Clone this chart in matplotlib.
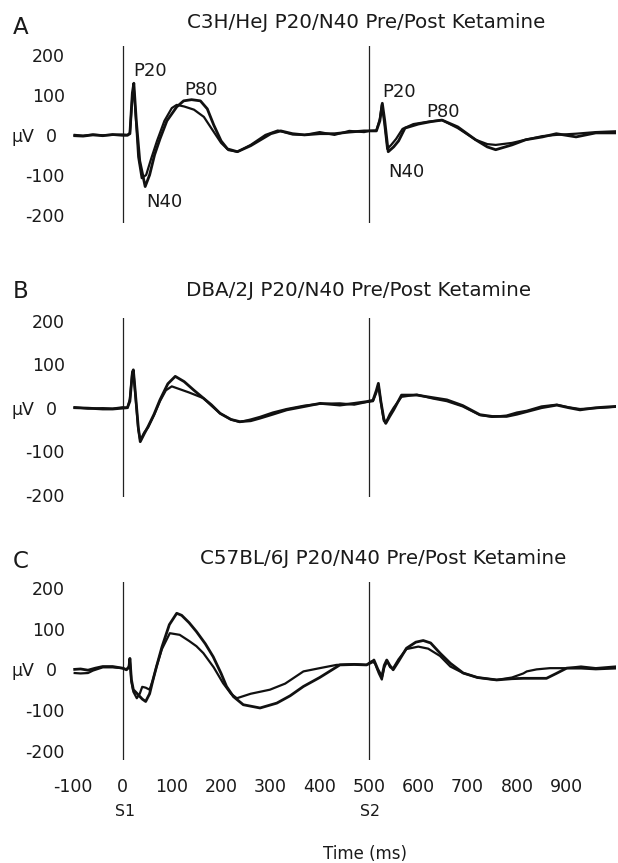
import matplotlib
matplotlib.use("Agg")
import matplotlib.pyplot as plt
import matplotlib.transforms as mtransforms

plt.rcParams['font.family'] = ['DejaVu Sans']

# ---------------- data ----------------
titles = ["C3H/HeJ P20/N40 Pre/Post Ketamine",
          "DBA/2J P20/N40 Pre/Post Ketamine",
          "C57BL/6J P20/N40 Pre/Post Ketamine"]
panel_letters = ["A", "B", "C"]
yticks = [200, 100, -100, -200]
xticks = [-100, 0, 100, 200, 300, 400, 500, 600, 700, 800, 900]
stim_times = [0, 500]
stim_labels = ["S1", "S2"]

# Panel A
a1_t = [-97, -80, -60, -40, -20, 0, 10, 15, 20, 23, 28, 35, 46, 55, 65, 76, 90, 110, 124, 140,
        158, 172, 185, 200, 213, 233, 260, 301, 321, 345, 369, 400, 430, 460, 490, 500, 515,
        522, 527, 532, 539, 550, 560, 573, 600, 625, 648, 680, 716, 740, 757, 790, 818, 852,
        880, 920, 960, 1000]
a1_v = [3, 2, 5, 3, 6, 4, 4, 8, 110, 134, 40, -60, -124, -95, -45, -5, 40, 75, 90, 93,
        90, 70, 30, -10, -30, -37, -22, 8, 15, 8, 5, 8, 8, 12, 15, 15, 15,
        40, 84, 40, -37, -25, -10, 22, 32, 38, 42, 25, -7, -25, -32, -20, -7, 0,
        8, 0, 10, 10]
a2_t = [-97, -80, -60, -40, -20, 0, 10, 15, 20, 23, 28, 32, 39, 48, 58, 70, 85, 100, 110, 125,
        145, 165, 180, 200, 215, 233, 260, 290, 315, 345, 370, 400, 430, 460, 490, 500, 515,
        522, 526, 531, 537, 545, 555, 568, 590, 620, 648, 680, 716, 740, 757, 790, 818, 852,
        880, 920, 960, 1000]
a2_v = [5, 3, 6, 4, 5, 6, 5, 10, 100, 120, 30, -50, -103, -95, -55, -10, 40, 72, 80, 76,
        68, 50, 22, -15, -33, -37, -20, 5, 16, 6, 5, 12, 5, 15, 12, 15, 16,
        45, 80, 35, -30, -20, -5, 20, 32, 38, 42, 22, -7, -18, -20, -15, -7, 2,
        5, 8, 12, 14]

# Panel B
b1_t = [-97, -70, -40, -20, 0, 10, 15, 20, 22, 26, 32, 36, 44, 52, 64, 76, 92, 107, 125, 145,
        164, 180, 198, 220, 238, 260, 279, 305, 333, 370, 401, 441, 470, 495, 508, 515, 519,
        524, 530, 534, 542, 550, 566, 597, 630, 658, 690, 725, 750, 779, 800, 820, 850, 881,
        905, 928, 960, 1000]
b1_v = [5, 4, 2, 2, 4, 5, 20, 85, 92, 40, -40, -73, -55, -38, -10, 23, 60, 77, 65, 45,
        27, 12, -8, -22, -27, -25, -19, -10, 0, 8, 15, 11, 15, 19, 22, 45, 61,
        20, -20, -31, -15, 0, 34, 34, 28, 23, 10, -11, -15, -15, -10, -4, 5, 11,
        5, 0, 5, 8]
b2_t = [-97, -70, -40, -20, 0, 10, 15, 20, 22, 26, 32, 36, 44, 52, 64, 76, 88, 100, 115, 135,
        164, 180, 198, 220, 238, 260, 279, 305, 333, 370, 401, 441, 470, 495, 508, 515, 519,
        524, 530, 534, 542, 550, 566, 597, 630, 658, 690, 725, 750, 779, 800, 820, 850, 881,
        905, 928, 960, 1000]
b2_v = [6, 3, 4, 3, 6, 5, 25, 88, 90, 35, -45, -70, -52, -40, -12, 20, 45, 54, 48, 40,
        27, 10, -8, -22, -28, -22, -16, -6, 2, 10, 14, 15, 12, 18, 20, 40, 58,
        18, -25, -30, -10, 5, 30, 35, 26, 20, 8, -12, -16, -13, -6, -2, 8, 12,
        6, 2, 4, 7]

# Panel C
c1_t = [-97, -85, -70, -55, -40, -20, 0, 8, 13, 15, 18, 22, 30, 40, 47, 55, 62, 69, 80, 95,
        110, 120, 135, 150, 168, 184, 200, 211, 225, 245, 279, 313, 340, 367, 400, 441, 470,
        495, 505, 510, 518, 526, 531, 536, 542, 549, 560, 576, 595, 610, 625, 644, 665, 691,
        720, 759, 790, 813, 840, 860, 880, 901, 930, 960, 1000]
c1_v = [5, 6, 3, 8, 12, 12, 8, 4, 10, 32, -20, -45, -55, -68, -74, -55, -20, 12, 60, 115,
        143, 138, 120, 98, 68, 36, -5, -37, -62, -82, -90, -78, -60, -37, -15, 16, 17,
        16, 22, 28, 5, -13, 15, 28, 15, 4, 25, 57, 72, 76, 70, 45, 20, -4,
        -15, -21, -18, -17, -17, -17, -5, 8, 8, 6, 8]
c2_t = [-97, -85, -70, -60, -40, -20, 0, 8, 13, 15, 18, 22, 29, 35, 40, 47, 55, 62, 69, 80,
        96, 116, 135, 150, 164, 185, 204, 220, 232, 260, 299, 330, 367, 400, 434, 470, 495,
        505, 512, 520, 526, 531, 537, 543, 549, 560, 576, 600, 620, 644, 665, 691, 720, 759,
        790, 813, 820, 840, 867, 900, 930, 960, 1000]
c2_v = [-4, -5, -4, 2, 10, 10, 8, 5, 12, 30, -25, -50, -66, -55, -38, -40, -45, -20, 12, 55,
        94, 90, 75, 62, 45, 10, -29, -55, -66, -55, -45, -30, 0, 8, 16, 18, 16,
        25, 20, -5, -20, 10, 25, 10, 8, 30, 55, 61, 56, 38, 12, -4, -15, -21,
        -15, -5, 0, 5, 8, 8, 12, 8, 12]

traces = [((a1_t, a1_v), (a2_t, a2_v)),
          ((b1_t, b1_v), (b2_t, b2_v)),
          ((c1_t, c1_v), (c2_t, c2_v))]

# peak labels (panel A only): (text, time ms, µV)
peak_labels_a = [("P20", 55, 165), ("P80", 160, 118), ("N40", 85, -162),
                 ("P20", 560, 112), ("P80", 650, 62), ("N40", 575, -88)]

# ---------------- layout ----------------
W, H = 618, 863
fig = plt.figure(figsize=(W / 100, H / 100), dpi=100)

x0_px, x1_px = 73.2, 615.5
xlim = (-100, 1000)
# (top px, bottom px, ylim)
panel_geo = [(46, 223, (-215, 227)),
             (318, 497, (-200, 211)),
             (582, 760, (-218, 220))]
title_pos = [(366, 22), (358, 290), (383, 558)]
letter_pos = [(21, 28), (21, 292), (21, 561)]

txt_color = "#1a1a1a"
tick_fs = 12.5

for i, (top, bot, ylim) in enumerate(panel_geo):
    ax = fig.add_axes([x0_px / W, 1 - bot / H, (x1_px - x0_px) / W, (bot - top) / H])
    ax.set_xlim(*xlim)
    ax.set_ylim(*ylim)
    for s in ax.spines.values():
        s.set_visible(False)
    ax.set_yticks([])
    for st in stim_times:
        ax.axvline(st, color="#222222", lw=0.9)
    (t1, v1), (t2, v2) = traces[i]
    ax.plot(t1, v1, color="#111111", lw=2.0, solid_joinstyle="round")
    ax.plot(t2, v2, color="#111111", lw=1.6, solid_joinstyle="round")

    trans = mtransforms.blended_transform_factory(fig.transFigure, ax.transData)
    for yv in yticks:
        ax.text(65 / W, yv, str(yv), transform=trans, ha="right", va="center",
                fontsize=tick_fs, color=txt_color)
    ax.text(12 / W, 0, "µV", transform=trans, ha="left", va="center",
            fontsize=tick_fs, color=txt_color)
    ax.text(57 / W, 0, "0", transform=trans, ha="right", va="center",
            fontsize=tick_fs, color=txt_color)

    fig.text(title_pos[i][0] / W, 1 - title_pos[i][1] / H, titles[i],
             ha="center", va="center", fontsize=14.3, color=txt_color)
    fig.text(letter_pos[i][0] / W, 1 - letter_pos[i][1] / H, panel_letters[i],
             ha="center", va="center", fontsize=16.5, color=txt_color)

    if i == 0:
        for lab, tx, ty in peak_labels_a:
            ax.text(tx, ty, lab, ha="center", va="center", fontsize=13, color=txt_color)

    if i == 2:
        ax.set_xticks(xticks)
        ax.set_xticklabels([str(x) for x in xticks], fontsize=tick_fs, color=txt_color)
        ax.tick_params(axis="x", length=0, pad=13)
    else:
        ax.set_xticks([])

# S1 / S2 and x label
fig.text(125 / W, 1 - 811 / H, stim_labels[0], ha="center", va="center", fontsize=11.3, color=txt_color)
fig.text(370 / W, 1 - 811 / H, stim_labels[1], ha="center", va="center", fontsize=11.3, color=txt_color)
fig.text(365 / W, 1 - 854 / H, "Time (ms)", ha="center", va="center", fontsize=12, color=txt_color)

fig.savefig("out.png", dpi=100)
